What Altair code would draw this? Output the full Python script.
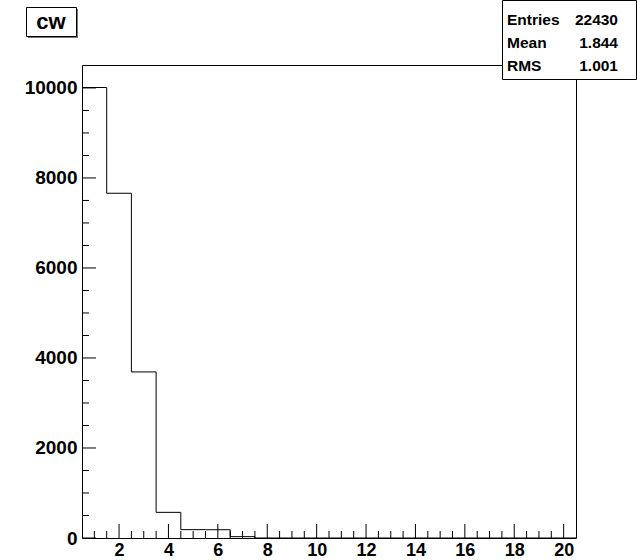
import altair as alt
import pandas as pd

# Histogram "cw": 20 bins of width 1 from 0.5 to 20.5
bin_centers = list(range(1, 21))
counts = [10010, 7660, 3690, 570, 186, 184, 30, 0, 0, 0,
          0, 0, 0, 0, 0, 0, 0, 0, 0, 0]

x_major = [2, 4, 6, 8, 10, 12, 14, 16, 18, 20]
x_minor = [v / 2 for v in range(2, 41) if (v / 2) not in x_major]
y_major = [0, 2000, 4000, 6000, 8000, 10000]
y_minor = [v for v in range(500, 10500, 500) if v not in y_major]

stats_names = ["Entries", "Mean", "RMS"]
stats_values = ["22430", "1.844", "1.001"]

x_domain = [0.5, 20.5]
y_domain = [0, 10510]

W, H = 494, 473
FONT = "Liberation Sans"

# step outline: lower edges + final right edge
edges = [c - 0.5 for c in bin_centers] + [bin_centers[-1] + 0.5]
vals = counts + [counts[-1]]
hist_df = pd.DataFrame({"x": edges, "y": vals})

xs = alt.Scale(domain=x_domain, nice=False, zero=False)
ys = alt.Scale(domain=y_domain, nice=False, zero=True)

hist = alt.Chart(hist_df).mark_line(
    interpolate="step-after", color="black", strokeWidth=1
).encode(
    x=alt.X("x:Q", scale=xs, axis=alt.Axis(
        values=x_major, title=None, ticks=False, domain=False, grid=False,
        format="d",
        labelFont=FONT, labelFontWeight="bold", labelFontSize=18,
        labelColor="black", labelPadding=3, labelFlush=False)),
    y=alt.Y("y:Q", scale=ys, axis=alt.Axis(
        values=y_major, title=None, ticks=False, domain=False, grid=False,
        format="d",
        labelFont=FONT, labelFontWeight="bold", labelFontSize=19,
        labelColor="black", labelPadding=5, labelFlush=False)),
)

def xticks(vals, length):
    return alt.Chart(pd.DataFrame({"t": vals})).mark_rule(
        color="black", strokeWidth=1
    ).encode(
        x=alt.X("t:Q", scale=xs, axis=None),
        y=alt.value(H), y2=alt.value(H - length),
    )

def yticks(vals, length):
    return alt.Chart(pd.DataFrame({"t": vals})).mark_rule(
        color="black", strokeWidth=1
    ).encode(
        y=alt.Y("t:Q", scale=ys, axis=None),
        x=alt.value(0), x2=alt.value(length),
    )

one = pd.DataFrame({"a": [0]})

# title box "cw"
title_shadow = alt.Chart(one).mark_rect(fill="#777777").encode(
    x=alt.value(-54), x2=alt.value(-4), y=alt.value(-56), y2=alt.value(-27)
)
title_box = alt.Chart(one).mark_rect(
    fill="white", stroke="black", strokeWidth=1
).encode(
    x=alt.value(-55.5), x2=alt.value(-5.5), y=alt.value(-57.5), y2=alt.value(-28.5)
)
title_text = alt.Chart(pd.DataFrame({"a": ["cw"]})).mark_text(
    font=FONT, fontWeight="bold", fontSize=22, color="black",
    align="center", baseline="middle"
).encode(x=alt.value(-31), y=alt.value(-43), text="a:N")

# stats box
stats_box = alt.Chart(one).mark_rect(
    fill="white", stroke="black", strokeWidth=1
).encode(
    x=alt.value(420.5), x2=alt.value(554.5), y=alt.value(-64.5), y2=alt.value(14.5)
)
stats_df = pd.DataFrame({"names": ["\n".join(stats_names)],
                         "values": ["\n".join(stats_values)]})
stats_names_t = alt.Chart(stats_df).mark_text(
    font=FONT, fontWeight="bold", fontSize=15.5, color="black",
    align="left", baseline="top", lineBreak="\n", lineHeight=23
).encode(x=alt.value(425), y=alt.value(-52), text="names:N")
stats_vals_t = alt.Chart(stats_df).mark_text(
    font=FONT, fontWeight="bold", fontSize=15.5, color="black",
    align="right", baseline="top", lineBreak="\n", lineHeight=23
).encode(x=alt.value(536), y=alt.value(-52), text="values:N")

chart = alt.layer(
    hist,
    xticks(x_major, 14), xticks(x_minor, 7),
    yticks(y_major, 14), yticks(y_minor, 7),
    title_shadow, title_box, title_text,
    stats_box, stats_names_t, stats_vals_t,
).resolve_axis(x="independent", y="independent").properties(
    width=W, height=H,
    autosize=alt.AutoSizeParams(type="none"),
    padding={"left": 82, "top": 65, "right": 61, "bottom": 22},
    background="white",
).configure_view(stroke="black", strokeWidth=1)

chart.save("out.html", embed_options={"renderer": "svg", "actions": False})
